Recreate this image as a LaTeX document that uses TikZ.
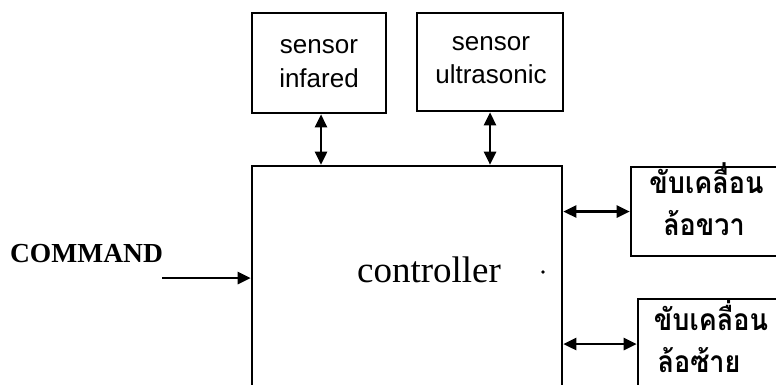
\documentclass[tikz,border=0pt]{standalone}
\usepackage{fontspec}
\usetikzlibrary{arrows.meta,calc}
\newfontfamily\sensorfont{Liberation Sans}
\newfontfamily\seriffont{Liberation Serif}
\newfontfamily\thaifont[Script=Thai]{Loma}
\newcommand{\thaiword}[1]{\scalebox{0.9}[1]{\thaifont\bfseries\fontsize{30}{34}\selectfont #1}}
\begin{document}
\begin{tikzpicture}[x=1pt,y=-1pt,
  box/.style={draw=black, line width=2.6pt, minimum width=#1, inner sep=0pt},
  senstext/.style={font=\sensorfont\fontsize{26}{30}\selectfont, anchor=base, inner sep=0pt},
  thaitext/.style={anchor=base, inner sep=0pt},
  conn/.style={line width=2.6pt, {Triangle[length=13pt,width=12pt]}-{Triangle[length=13pt,width=12pt]}},
  inconn/.style={line width=2.6pt, -{Triangle[length=13pt,width=12pt]}}
]
\useasboundingbox (0,0) rectangle (776,384);
\clip (0,0) rectangle (776,384);
\fill[white] (0,0) rectangle (776,384);
% boxes
\node[box=134pt, minimum height=100pt] (inf) at (319,63) {};
\node[box=146pt, minimum height=98pt] (ult) at (490,62) {};
\node[box=310pt, minimum height=256pt] (ctrl) at (407,294) {};
\node[box=170pt, minimum height=89pt] (wr) at (716,211.5) {};
\node[box=170pt, minimum height=90pt] (wl) at (723,344) {};
% texts
\node[senstext] (t1) at (319,53) {sensor};
\node[senstext] (t2) at (319,87) {infared};
\node[senstext] (t3) at (491,50) {sensor};
\node[senstext] (t4) at (491,83) {ultrasonic};
\node[font=\seriffont\fontsize{37}{40}\selectfont, anchor=base, inner sep=0pt] (tc) at (429,282) {controller};
\node[font=\seriffont\bfseries\fontsize{27.5}{30}\selectfont, anchor=base, inner sep=0pt] (cmd) at (86.5,262) {COMMAND};
\node[thaitext] (w1) at (706.5,193) {\thaiword{ขับเคลื่อน}};
\node[thaitext] (w2) at (704,235) {\thaiword{ล้อขวา}};
\node[thaitext] (w3) at (711,330) {\thaiword{ขับเคลื่อน}};
\node[thaitext] (w4) at (699,372) {\thaiword{ล้อซ้าย}};
\fill (543,272) circle (1.8pt);
% connectors
\coordinate (infport) at ($(inf.south)+(2,0)$);
\draw[conn] (infport) -- (infport |- ctrl.north);
\draw[conn] (ult.south) -- (ult.south |- ctrl.north);
\draw[conn] (wr.west -| ctrl.east) -- (wr.west);
\draw[conn] (wl.west -| ctrl.east) -- (wl.west);
\coordinate (cmdstart) at (162,278);
\draw[inconn] (cmdstart) -- (cmdstart -| ctrl.west);
\end{tikzpicture}
\end{document}
